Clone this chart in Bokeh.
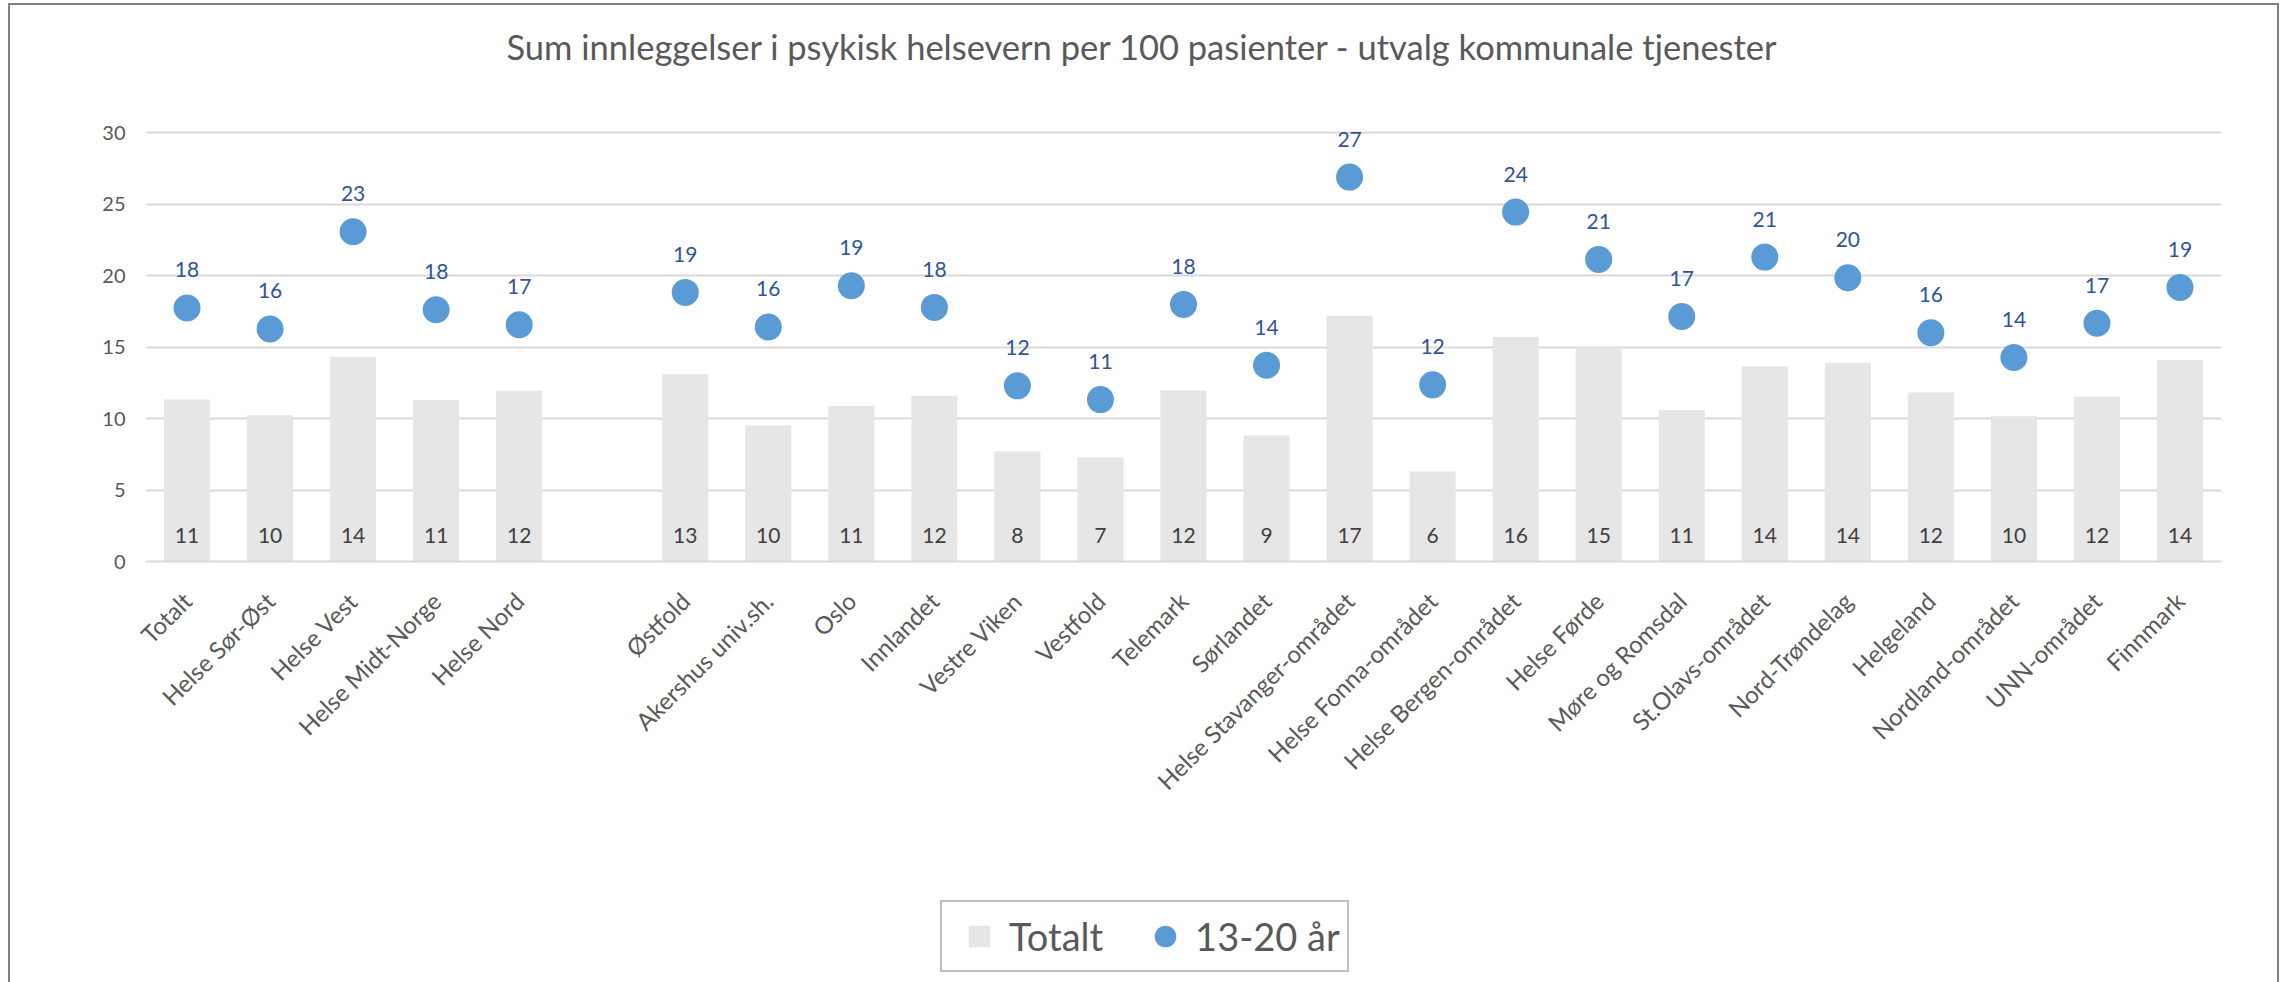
import math
from bokeh.plotting import figure
from bokeh.layouts import column
from bokeh.models import (ColumnDataSource, FactorRange, Range1d, FixedTicker,
                          Legend, LegendItem)
from bokeh.core.properties import value
from bokeh.embed import file_html
from bokeh.resources import INLINE

# ---------------- data ----------------
categories = ["Totalt", "Helse Sør-Øst", "Helse Vest", "Helse Midt-Norge", "Helse Nord", " ",
              "Østfold", "Akershus univ.sh.", "Oslo", "Innlandet", "Vestre Viken", "Vestfold",
              "Telemark", "Sørlandet", "Helse Stavanger-området", "Helse Fonna-området",
              "Helse Bergen-området", "Helse Førde", "Møre og Romsdal", "St.Olavs-området",
              "Nord-Trøndelag", "Helgeland", "Nordland-området", "UNN-området", "Finnmark"]
totalt = [11.33, 10.23, 14.33, 11.30, 11.94, None, 13.10, 9.51, 10.89, 11.60, 7.69, 7.30,
          11.96, 8.81, 17.20, 6.29, 15.71, 14.99, 10.60, 13.64, 13.90, 11.82, 10.16, 11.54, 14.10]
ungdom = [17.74, 16.27, 23.08, 17.62, 16.57, None, 18.83, 16.41, 19.30, 17.78, 12.29, 11.33,
          17.99, 13.73, 26.90, 12.36, 24.45, 21.14, 17.15, 21.30, 19.86, 16.01, 14.27, 16.67, 19.18]
y_ticks = [0, 5, 10, 15, 20, 25, 30]
series_names = ["Totalt", "13-20 år"]
title_text = "Sum innleggelser i psykisk helsevern per 100 pasienter - utvalg kommunale tjenester"

# ---------------- styles ----------------
FONT = "Lato"
BAR_COLOR = "#E6E6E6"
DOT_COLOR = "#5B9BD5"
DOT_LABEL = "#2F5597"
GRID = "#D9D9D9"
TXT = "#595959"
BORDER = "2px solid #7F7F7F"

n = len(categories)
keep = [i for i in range(n) if totalt[i] is not None]
src = ColumnDataSource(dict(
    cat=[categories[i] for i in keep],
    tot=[totalt[i] for i in keep],
    ung=[ungdom[i] for i in keep],
    zero=[0 for _ in keep],
    tot_lbl=[f"{round(totalt[i]):d}" for i in keep],
    ung_lbl=[f"{round(ungdom[i]):d}" for i in keep],
))

W = 2271
HT, H1, H2 = 100, 758, 121

# ---------------- title strip ----------------
tf = figure(width=W, height=HT, x_range=Range1d(0, 1), y_range=Range1d(0, 1),
            x_axis_location=None, y_axis_location=None, output_backend="svg",
            toolbar_location=None, min_border_left=135, min_border_right=60,
            min_border_top=0, min_border_bottom=0, title=title_text)
tf.styles = {"border-left": BORDER, "border-right": BORDER, "border-top": BORDER,
             "margin-left": "8px", "margin-top": "3px"}
tf.outline_line_color = None
tf.grid.visible = False
tf.background_fill_color = "white"
tf.border_fill_color = "white"
tf.title.align = "left"
tf.title.offset = 361
tf.title.standoff = 37
tf.title.text_font = FONT
tf.title.text_font_size = "34.5px"
tf.title.text_font_style = "normal"
tf.title.text_color = TXT

# ---------------- main chart ----------------
p = figure(x_range=FactorRange(factors=categories, range_padding=0),
           y_range=Range1d(0, 31),
           width=W, height=H1, output_backend="svg", toolbar_location=None,
           min_border_left=135, min_border_right=60, min_border_top=15,
           min_border_bottom=300)
p.styles = {"border-left": BORDER, "border-right": BORDER, "margin-left": "8px"}
p.outline_line_color = None
p.background_fill_color = "white"
p.border_fill_color = "white"

p.vbar(x="cat", top="tot", width=0.555, source=src, fill_color=BAR_COLOR, line_color=None)
p.scatter(x="cat", y="ung", size=27, source=src, fill_color=DOT_COLOR, line_color=None)

p.text(x="cat", y="zero", text="tot_lbl", source=src, text_align="center",
       text_baseline="middle", y_offset=-26, text_font=value(FONT),
       text_font_size="21px", text_color="#404040")
p.text(x="cat", y="ung", text="ung_lbl", source=src, text_align="center",
       text_baseline="middle", y_offset=-38, text_font=value(FONT),
       text_font_size="21px", text_color=DOT_LABEL)

# y axis
p.yaxis.ticker = FixedTicker(ticks=y_ticks)
p.yaxis.axis_line_color = None
p.yaxis.major_tick_line_color = None
p.yaxis.minor_tick_line_color = None
p.yaxis.major_tick_out = 0
p.yaxis.major_tick_in = 0
p.yaxis.major_label_standoff = 20
p.yaxis.major_label_text_font = FONT
p.yaxis.major_label_text_font_size = "20px"
p.yaxis.major_label_text_color = TXT
p.ygrid.grid_line_color = GRID
p.ygrid.grid_line_width = 2
p.ygrid.ticker = FixedTicker(ticks=y_ticks)
p.xgrid.grid_line_color = None

# x axis
p.xaxis.axis_line_color = GRID
p.xaxis.axis_line_width = 2
p.xaxis.major_tick_line_color = None
p.xaxis.minor_tick_line_color = None
p.xaxis.major_tick_out = 0
p.xaxis.major_tick_in = 0
p.xaxis.major_label_orientation = math.pi / 4
p.xaxis.major_label_standoff = 35
p.xaxis.major_label_text_font = FONT
p.xaxis.major_label_text_font_size = "24px"
p.xaxis.major_label_text_color = TXT

# ---------------- legend strip ----------------
lf = figure(width=W, height=H2, x_range=Range1d(0, 1), y_range=Range1d(0, 1),
            x_axis_location=None, y_axis_location=None, output_backend="svg",
            toolbar_location=None, min_border_left=0, min_border_right=0,
            min_border_top=0, min_border_bottom=0)
lf.styles = {"border-left": BORDER, "border-right": BORDER, "margin-left": "8px"}
lf.outline_line_color = None
lf.grid.visible = False
lf.background_fill_color = "white"
lf.border_fill_color = "white"

# legend-only proxy renderers (no visible points)
leg_src = ColumnDataSource(dict(x=[float("nan")], y=[float("nan")]))
proxy_sq = lf.scatter(x="x", y="y", source=leg_src, marker="square", size=21,
                      fill_color=BAR_COLOR, line_color=None)
proxy_ci = lf.scatter(x="x", y="y", source=leg_src, marker="circle", size=21,
                      fill_color=DOT_COLOR, line_color=None)

legend = Legend(items=[LegendItem(label=series_names[0], renderers=[proxy_sq]),
                       LegendItem(label=series_names[1], renderers=[proxy_ci])],
                orientation="horizontal", location=(795, 10),
                glyph_width=60, glyph_height=54, label_standoff=0, spacing=32,
                padding=7, margin=0,
                label_text_font=FONT, label_text_font_size="38px",
                label_text_color=TXT, label_text_baseline="middle",
                border_line_color="#7F7F7F", border_line_width=2,
                background_fill_color="white", background_fill_alpha=1)
lf.add_layout(legend, "center")

layout = column(tf, p, lf, spacing=0)
open("out.html", "w").write(file_html(layout, INLINE))
